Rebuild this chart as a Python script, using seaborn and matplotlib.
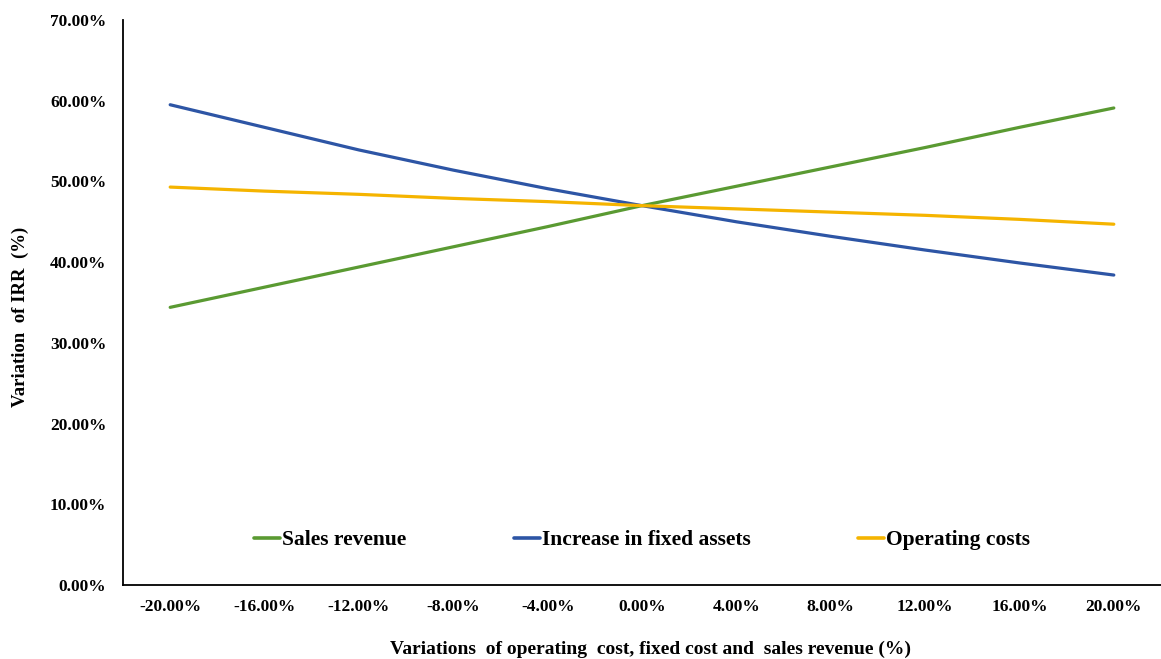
import matplotlib
matplotlib.use("Agg")
import matplotlib.pyplot as plt
import numpy as np
import pandas as pd
import seaborn as sns

# Sensitivity of IRR to changes in each factor
variations = ["-20.00%", "-16.00%", "-12.00%", "-8.00%", "-4.00%", "0.00%",
              "4.00%", "8.00%", "12.00%", "16.00%", "20.00%"]
sales_revenue = [34.4, 36.9, 39.4, 41.9, 44.4, 47.0, 49.4, 51.8, 54.2, 56.7, 59.1]
fixed_assets = [59.5, 56.7, 53.9, 51.4, 49.1, 47.0, 45.0, 43.2, 41.5, 39.9, 38.4]
operating_costs = [49.3, 48.8, 48.4, 47.9, 47.5, 47.0, 46.6, 46.2, 45.8, 45.3, 44.7]
y_ticks = [0, 10, 20, 30, 40, 50, 60, 70]

series_names = ["Sales revenue", "Increase in fixed assets", "Operating costs"]
series_values = [sales_revenue, fixed_assets, operating_costs]
colors = {"Sales revenue": "#5A9A32",
          "Increase in fixed assets": "#2D55A5",
          "Operating costs": "#F5B400"}

df = pd.concat([
    pd.DataFrame({"pos": np.arange(len(variations)), "irr": vals, "factor": name})
    for name, vals in zip(series_names, series_values)
])

sns.set_theme(style="white")
plt.rcParams["font.family"] = ["Liberation Serif", "DejaVu Serif"]
plt.rcParams["font.weight"] = "bold"
for key in ["text.color", "axes.labelcolor", "xtick.color", "ytick.color"]:
    plt.rcParams[key] = "black"

fig = plt.figure(figsize=(11.61, 6.59), dpi=100)
ax = fig.add_axes([123 / 1161, 1 - 585 / 659, 1 - 123 / 1161, (585 - 20) / 659])

sns.lineplot(data=df, x="pos", y="irr", hue="factor", hue_order=series_names,
             palette=colors, linewidth=2.3, ax=ax, sort=False)

ax.set_xlim(-0.5, len(variations) - 0.5)
ax.set_ylim(0, 70)

# y axis: percentage labels, no tick marks
ax.set_yticks(y_ticks)
ax.set_yticklabels([f"{v:.2f}%" for v in y_ticks], fontsize=12.5, fontweight="bold")
ax.tick_params(axis="y", length=0, pad=12)

# x axis: tick marks between categories, labels centred on categories
ax.set_xticks(np.arange(-0.5, len(variations), 1.0))
ax.set_xticklabels([])
ax.set_xticks(np.arange(len(variations)), minor=True)
ax.set_xticklabels(variations, minor=True, fontsize=12.5, fontweight="bold")
ax.tick_params(axis="x", which="major", length=5, width=1.3, color="black", direction="out")
ax.tick_params(axis="x", which="minor", length=0, pad=10)

for side in ["top", "right"]:
    ax.spines[side].set_visible(False)
for side in ["left", "bottom"]:
    ax.spines[side].set_color("black")
    ax.spines[side].set_linewidth(1.3)

ax.set_xlabel("Variations  of operating  cost, fixed cost and  sales revenue (%)",
              fontsize=14, fontweight="bold")
ax.xaxis.set_label_coords(0.508, -(649 - 585) / 565, transform=ax.transAxes)
ax.xaxis.label.set_va("center")
ax.set_ylabel("Variation  of IRR  (%)", fontsize=13.5, fontweight="bold")
ax.yaxis.set_label_coords(-(123 - 20) / 1038, (585 - 317) / 565, transform=ax.transAxes)
ax.yaxis.label.set_va("center")

leg = ax.legend(loc="center", bbox_to_anchor=(0.5, (585 - 540) / 565), ncol=3,
                frameon=False, prop={"size": 15.5, "weight": "bold"},
                handlelength=1.2, handletextpad=0.1, columnspacing=5.0)
for line in leg.get_lines():
    line.set_linewidth(2.6)

fig.savefig("out.png", dpi=100)
